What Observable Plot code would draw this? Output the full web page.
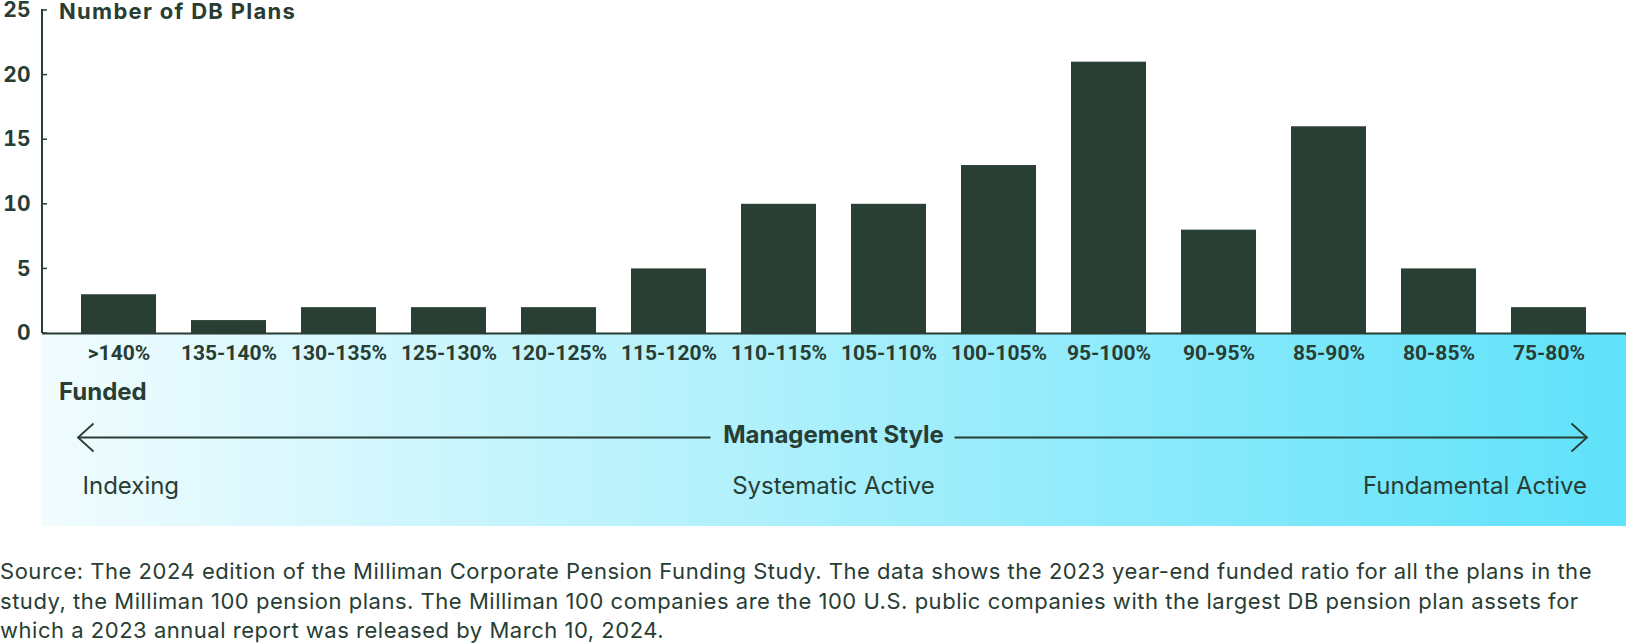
<!DOCTYPE html>
<html>
<head>
<meta charset="utf-8">
<script src="https://cdn.jsdelivr.net/npm/d3@7"></script>
<script src="https://cdn.jsdelivr.net/npm/@observablehq/plot@0.6"></script>
<style>
  html, body { margin: 0; padding: 0; background: #ffffff; }
  #chart svg { display: block; overflow: visible; }
  #caption {
    font-family: Inter, "Noto Sans", sans-serif;
    font-size: 22px;
    line-height: 29.5px;
    color: #283d33;
    white-space: nowrap;
    margin-top: 17px;
    letter-spacing: 0.52px;
  }
</style>
</head>
<body>
<div id="chart"></div>
<div id="caption"></div>
<script>
// ---- data ----
const categories = [">140%", "135-140%", "130-135%", "125-130%", "120-125%", "115-120%", "110-115%",
  "105-110%", "100-105%", "95-100%", "90-95%", "85-90%", "80-85%", "75-80%"];
const plans = [3, 1, 2, 2, 2, 5, 10, 10, 13, 21, 8, 16, 5, 2];
const yTicks = [0, 5, 10, 15, 20, 25];
const yTitle = "Number of DB Plans";
const xTitle = "Funded";
const styleTitle = "Management Style";
const styleLabels = ["Indexing", "Systematic Active", "Fundamental Active"];
const captionLines = [
  "Source: The 2024 edition of the Milliman Corporate Pension Funding Study. The data shows the 2023 year-end funded ratio for all the plans in the",
  "study, the Milliman 100 pension plans. The Milliman 100 companies are the 100 U.S. public companies with the largest DB pension plan assets for",
  "which a 2023 annual report was released by March 10, 2024."
];

const data = categories.map((c, i) => ({category: c, plans: plans[i]}));
const ink = "#283d33";
const barFill = "#293f33";
const font = "Inter, 'Noto Sans', sans-serif";

function annotations(index, scales, values, dims) {
  const {x, y} = scales;
  const bw = x.bandwidth();
  const left = x(categories[0]);
  const right = x(categories[categories.length - 1]) + bw;
  const mid = (left + right) / 2;
  const y0 = y(0);
  const ml = dims.marginLeft;
  const g = d3.create("svg:g");
  const defs = g.append("defs");
  const grad = defs.append("linearGradient").attr("id", "band-grad")
    .attr("x1", 0).attr("x2", 1).attr("y1", 0).attr("y2", 0);
  grad.append("stop").attr("offset", "0%").attr("stop-color", "#f1fcfe");
  grad.append("stop").attr("offset", "100%").attr("stop-color", "#5fe2fa");
  g.append("rect").attr("x", ml).attr("y", y0).attr("width", dims.width - ml)
    .attr("height", 193).attr("fill", "url(#band-grad)");
  // y axis line and inward ticks
  g.append("line").attr("x1", ml).attr("x2", ml).attr("y1", y(yTicks[yTicks.length - 1]) - 1).attr("y2", y0)
    .attr("stroke", ink).attr("stroke-width", 2);
  for (const t of yTicks) {
    g.append("line").attr("x1", ml).attr("x2", ml + 5).attr("y1", y(t)).attr("y2", y(t))
      .attr("stroke", ink).attr("stroke-width", 1.5);
  }
  // titles
  g.append("text").attr("x", ml + 17).attr("y", y(yTicks[yTicks.length - 1]) + 8.5)
    .attr("text-anchor", "start")
    .attr("fill", ink).attr("font-family", font).attr("font-weight", 700)
    .attr("font-size", 22).attr("letter-spacing", "1.3px").text(yTitle);
  g.append("text").attr("x", ml + 17).attr("y", y0 + 67)
    .attr("text-anchor", "start")
    .attr("fill", ink).attr("font-family", font).attr("font-weight", 700)
    .attr("font-size", 24).text(xTitle);
  // arrows
  const ay = y0 + 104.5;
  const lt = left - 3, rt = right + 1;
  g.append("line").attr("x1", lt).attr("x2", mid - 123).attr("y1", ay).attr("y2", ay)
    .attr("stroke", ink).attr("stroke-width", 1.8);
  g.append("line").attr("x1", mid + 121).attr("x2", rt).attr("y1", ay).attr("y2", ay)
    .attr("stroke", ink).attr("stroke-width", 1.8);
  g.append("path").attr("d", `M${lt + 15.5},${ay - 14}L${lt},${ay}L${lt + 15.5},${ay + 14}`)
    .attr("fill", "none").attr("stroke", ink).attr("stroke-width", 1.8);
  g.append("path").attr("d", `M${rt - 15.5},${ay - 14}L${rt},${ay}L${rt - 15.5},${ay + 14}`)
    .attr("fill", "none").attr("stroke", ink).attr("stroke-width", 1.8);
  g.append("text").attr("x", mid).attr("y", y0 + 110).attr("text-anchor", "middle")
    .attr("fill", ink).attr("font-family", font).attr("font-weight", 700)
    .attr("font-size", 24).text(styleTitle);
  const anchors = ["start", "middle", "end"];
  const xs = [left + 1.5, mid, right + 1];
  styleLabels.forEach((s, i) => {
    g.append("text").attr("x", xs[i]).attr("y", y0 + 161).attr("text-anchor", anchors[i])
      .attr("fill", ink).attr("font-family", font).attr("font-weight", 400)
      .attr("font-size", 24).text(s);
  });
  return g.node();
}

const plot = Plot.plot({
  width: 1626,
  height: 540,
  marginTop: 10,
  marginBottom: 207,
  marginLeft: 42,
  marginRight: 0,
  style: {fontFamily: font, color: ink, background: "transparent"},
  x: {domain: categories, paddingInner: 0.316, paddingOuter: 0.35, label: null},
  y: {domain: [0, 25], label: null},
  marks: [
    annotations,
    Plot.barY(data, {x: "category", y: "plans", fill: barFill}),
    Plot.ruleY([0], {stroke: ink, strokeWidth: 2}),
    Plot.axisY(yTicks, {tickSize: 0, tickPadding: 12, fontSize: 21, fontWeight: 700, fill: ink, label: null}),
    Plot.axisX({tickSize: 0, tickPadding: 12, fontSize: 21, fontWeight: 700, fill: ink, label: null,
      fontFamily: "Roboto, sans-serif", style: "letter-spacing:-0.5px"})
  ]
});
document.getElementById("chart").appendChild(plot);
document.getElementById("caption").innerHTML = captionLines.map(l => l.replace(/&/g, "&amp;").replace(/</g, "&lt;")).join("<br>");
</script>
</body>
</html>
